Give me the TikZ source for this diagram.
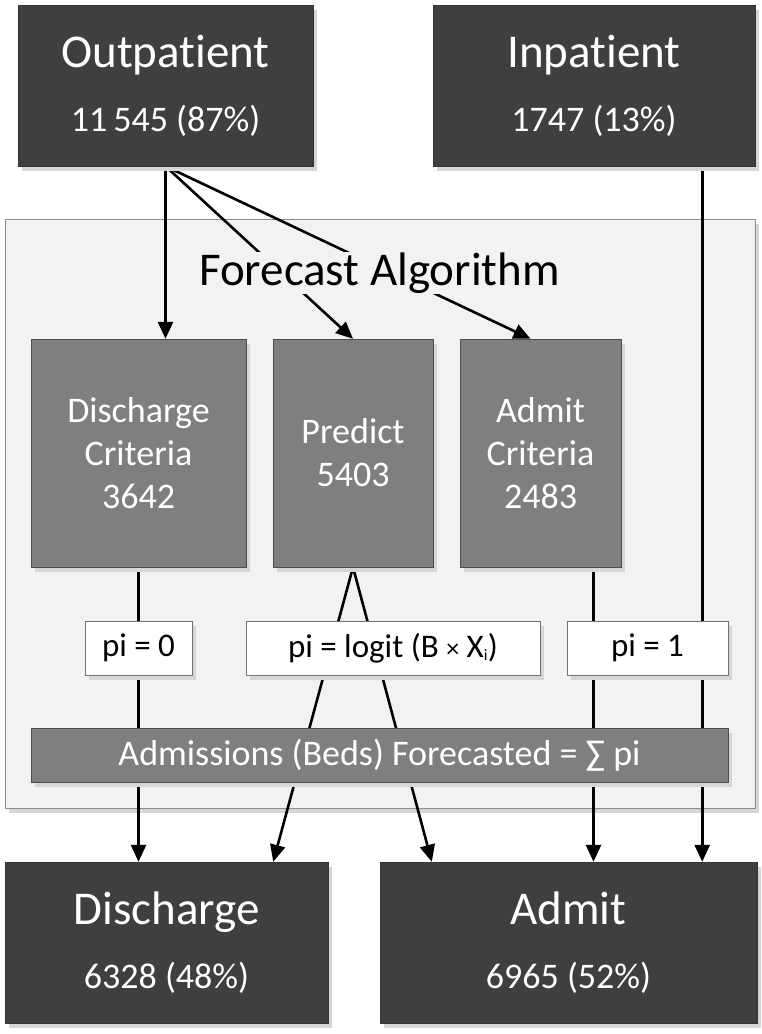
\documentclass[tikz,border=0pt]{standalone}
\usepackage{fontspec}
\setmainfont{Carlito}[Ligatures=NoCommon]
\usepackage{tikz}
\usetikzlibrary{calc}
\usetikzlibrary{arrows.meta}
\usetikzlibrary{shadows}
\usetikzlibrary{backgrounds}
\definecolor{darkbox}{HTML}{3F3F3F}
\definecolor{midbox}{HTML}{7F7F7F}
\definecolor{panelgray}{HTML}{F2F2F2}
\definecolor{shadowgray}{HTML}{D6D6D6}
\tikzset{
  boxshadow/.style={drop shadow={shadow xshift=4pt,shadow yshift=-5pt,fill=shadowgray,opacity=1}},
  endbox/.style={boxshadow,draw=black!80,fill=darkbox,text=white,align=center,minimum height=161pt,
    font=\fontsize{47}{64}\selectfont},
  critbox/.style={boxshadow,draw=black!70,fill=midbox,text=white,align=center,minimum height=228pt,
    font=\fontsize{36}{43}\selectfont},
  pibox/.style={boxshadow,draw=black!55,fill=white,minimum height=54pt,font=\fontsize{33}{40}\selectfont},
  arr/.style={line width=2.6pt,-{Triangle[length=17pt,width=15pt]}}
}
\newcommand{\numline}{\fontsize{36}{64}\selectfont}
\begin{document}
\begin{tikzpicture}[x=1pt,y=-1pt]
  \useasboundingbox (0,0) rectangle (761,1034);
  \node[endbox,minimum width=295pt] (out) at (165.5,85.5) {Outpatient\\\numline 11\,545 (87\%)};
  \node[endbox,minimum width=322pt] (inp) at (594,85.5) {Inpatient\\\numline 1747 (13\%)};
  \node[fill=panelgray,inner xsep=2pt,inner ysep=1pt,font=\fontsize{47}{52}\selectfont] (fa) at (379.5,273) {Forecast Algorithm};
  \node[critbox,minimum width=215pt] (dcrit) at (138.5,453) {Discharge\\Criteria\\3642};
  \node[critbox,minimum width=160pt] (pred) at (353,453) {Predict\\5403};
  \node[critbox,minimum width=161pt] (acrit) at (540.5,453) {Admit\\Criteria\\2483};
  \node[pibox,minimum width=107pt] (pi0) at (138.5,648) {pi = 0};
  \node[pibox,minimum width=294pt] (pilog) at (393,648) {pi = logit (B {\fontsize{26}{26}\selectfont ×} X\textsubscript{\fontsize{16}{16}\selectfont i})};
  \node[pibox,minimum width=161pt] (pi1) at (647.5,648) {pi = 1};
  \node[boxshadow,draw=black!70,fill=midbox,text=white,minimum width=697pt,minimum height=54pt,
    font=\fontsize{36}{40}\selectfont] (beds) at (379.5,755) {Admissions (Beds) Forecasted = ∑ pi};
  \node[endbox,minimum width=323pt] (dis) at (166.5,942.5) {Discharge\\\numline 6328 (48\%)};
  \node[endbox,minimum width=377pt] (adm) at (568.5,942.5) {Admit\\\numline 6965 (52\%)};
  \begin{scope}[on background layer]
    \node[boxshadow,draw=black!45,fill=panelgray,minimum width=750pt,minimum height=589pt] (algo) at (380,513.5) {};
    \coordinate (inpout) at ($(inp.south east)+(-53,0)$);
    \coordinate (acritout) at ($(acrit.south)+(53,0)$);
    \coordinate (disin) at ($(dis.north east)+(-55,0)$);
    \coordinate (admin) at ($(adm.north west)+(52,0)$);
    \draw[arr] (out.south) -- (out.south |- dcrit.north);
    \draw[arr] (out.south) -- (pred.north);
    \draw[arr] (out.south) -- ($(acrit.north)+(-10,0)$);
    \draw[arr] (inpout) -- (inpout |- adm.north);
    \draw[arr] (dcrit.south) -- (dcrit.south |- dis.north);
    \draw[arr] (pred.south) -- (disin);
    \draw[arr] (pred.south) -- (admin);
    \draw[arr] (acritout) -- (acritout |- adm.north);
  \end{scope}
\end{tikzpicture}
\end{document}
